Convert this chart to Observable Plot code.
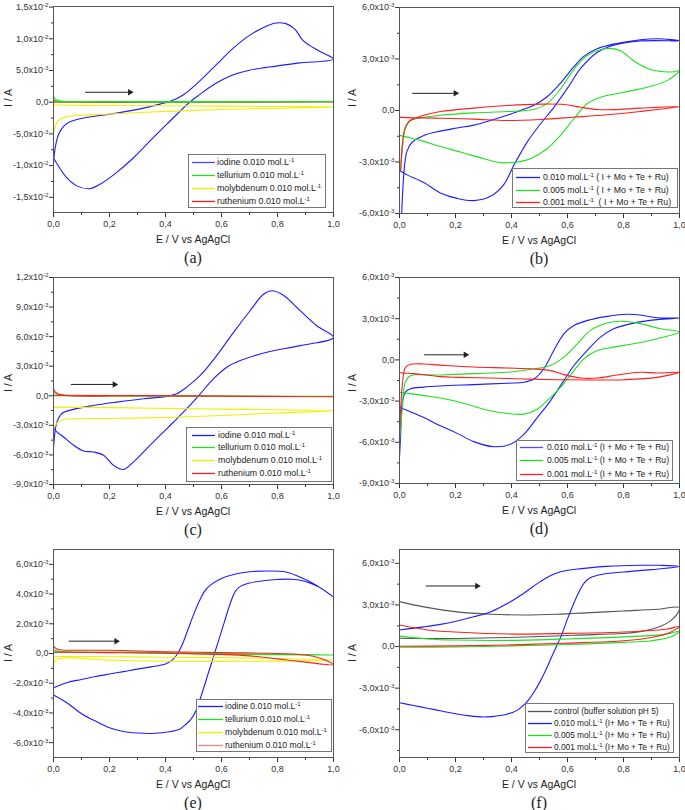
<!DOCTYPE html>
<html><head><meta charset="utf-8">
<script src="https://cdn.jsdelivr.net/npm/d3@7"></script>
<script src="https://cdn.jsdelivr.net/npm/@observablehq/plot@0.6"></script>
<style>
body{margin:0;background:#fff;}
#root{position:relative;width:685px;height:810px;overflow:hidden;background:#fff;font-family:"Liberation Sans",Arial,sans-serif;color:#222;}
.lbl{position:absolute;white-space:nowrap;transform:translate(-50%,-50%);}
.xt{font-size:10.5px;}
.pl{font-family:"Liberation Serif","Times New Roman",serif;font-size:16px;}
.yt{font-size:10.5px;transform:translate(-50%,-50%) rotate(-90deg);}
.leg{position:absolute;border:1px solid #777;background:#fff;box-sizing:border-box;}
.row{position:absolute;line-height:12px;height:12px;white-space:pre;color:#222;}
.smp{position:absolute;overflow:visible;}
sup{font-size:6px;vertical-align:3px;line-height:0;}
</style></head><body><div id="root"></div>
<script>
// ---------- axis ticks ----------
const xMajor = [0, 0.2, 0.4, 0.6, 0.8, 1.0];
const xTickLabels = ["0,0", "0,2", "0,4", "0,6", "0,8", "1,0"];
const xMinor = [0.1, 0.3, 0.5, 0.7, 0.9];
// y values are in mA (labels shown in A)
const aYTicks = [-15, -10, -5, 0, 5, 10, 15];
const aYMinor = [-12.5, -7.5, -2.5, 2.5, 7.5, 12.5];
const bYTicks = [-6, -3, 0, 3, 6];
const bYMinor = [-4.5, -1.5, 1.5, 4.5];
const cYTicks = [-9, -6, -3, 0, 3, 6, 9, 12];
const cYMinor = [-7.5, -4.5, -1.5, 1.5, 4.5, 7.5, 10.5];
const dYTicks = [-9, -6, -3, 0, 3, 6];
const dYMinor = [-7.5, -4.5, -1.5, 1.5, 4.5];
const eYTicks = [-6, -4, -2, 0, 2, 4, 6];
const eYMinor = [-5, -3, -1, 1, 3, 5];
const fYTicks = [-6, -3, 0, 3, 6];
const fYMinor = [-7.5, -4.5, -1.5, 1.5, 4.5];

// ---------- series: [E (V), I (mA)] ----------
const a_iodine = [[0,-9.6],[0.006,-7.2],[0.018,-5.1],[0.036,-3.8],[0.059,-3.1],[0.107,-2.5],[0.2,-1.9],[0.31,-1.05],[0.38,-0.3],[0.415,0.1],[0.463,1.15],[0.52,3.25],[0.58,5.85],[0.64,8.45],[0.70,10.55],[0.76,12.0],[0.795,12.5],[0.83,12.4],[0.86,11.6],[0.89,9.8],[0.913,9.0],[0.95,8.05],[1.0,6.8],
 [0.878,6.2],[0.795,5.7],[0.70,5.05],[0.64,4.3],[0.58,3.0],[0.52,1.15],[0.486,0],[0.403,-3.55],[0.344,-6.15],[0.285,-8.8],[0.225,-11.1],[0.166,-12.95],[0.13,-13.65],[0.083,-13.2],[0.047,-11.9],[0.018,-10.1],[0,-8.8]];
const a_tellurium = [[0,0.9],[0.008,0.45],[0.025,0.2],[0.1,0.12],[0.5,0.1],[1.0,0.1],[0.5,0.02],[0.1,0.05],[0,0.1]];
const a_molybdenum = [[0,-4.9],[0.008,-3.6],[0.02,-2.8],[0.04,-2.35],[0.1,-2.05],[0.2,-1.85],[0.4,-1.45],[0.6,-1.15],[0.8,-0.95],[1.0,-0.75],[0.8,-0.68],[0.6,-0.62],[0.4,-0.57],[0.2,-0.52],[0,-0.45]];
const a_ruthenium = [[0,0.3],[0.02,0.1],[0.5,0.05],[1.0,0.05],[0.5,0.0],[0,0.0]];

const b_010 = [[0.007,-6.3],[0.012,-4.55],[0.018,-3.2],[0.027,-2.35],[0.045,-1.85],[0.087,-1.45],[0.146,-1.2],[0.206,-1.02],[0.265,-0.85],[0.325,-0.58],[0.384,-0.28],[0.432,0],[0.48,0.3],[0.527,0.8],[0.575,1.6],[0.623,2.55],[0.658,3.15],[0.706,3.6],[0.765,3.87],[0.86,4.12],[0.92,4.18],[1.0,4.06],
 [0.86,4.05],[0.765,3.8],[0.706,3.38],[0.647,2.45],[0.6,1.3],[0.552,0.2],[0.504,-0.77],[0.456,-1.84],[0.408,-3.2],[0.373,-4.3],[0.325,-5.0],[0.265,-5.25],[0.206,-5.12],[0.146,-4.8],[0.087,-4.2],[0.027,-3.75],[0,-3.5]];
const b_005 = [[0.004,-3.5],[0.01,-2.3],[0.02,-1.1],[0.039,-0.6],[0.087,-0.4],[0.146,-0.28],[0.265,-0.14],[0.384,-0.06],[0.48,0.06],[0.527,0.4],[0.575,1.25],[0.623,2.4],[0.67,3.2],[0.718,3.54],[0.754,3.62],[0.789,3.48],[0.836,2.9],[0.884,2.46],[0.932,2.27],[0.98,2.26],[1.0,2.32],
 [0.956,1.74],[0.884,1.35],[0.8,1.06],[0.718,0.77],[0.67,0.39],[0.623,-0.48],[0.575,-1.45],[0.527,-2.23],[0.468,-2.81],[0.42,-3.0],[0.36,-3.04],[0.301,-2.81],[0.218,-2.42],[0.146,-2.1],[0.087,-1.8],[0.04,-1.6],[0,-1.45]];
const b_001 = [[0.004,-3.5],[0.01,-2.0],[0.02,-1.0],[0.035,-0.6],[0.06,-0.42],[0.1,-0.22],[0.146,-0.06],[0.265,0.14],[0.384,0.29],[0.504,0.37],[0.587,0.35],[0.647,0.19],[0.706,0.06],[0.765,0.05],[0.86,0.14],[1.0,0.23],
 [0.86,-0.06],[0.742,-0.25],[0.623,-0.39],[0.504,-0.52],[0.384,-0.58],[0.265,-0.5],[0.146,-0.45],[0.05,-0.42],[0,-0.4]];

const c_iodine = [[0,-5.4],[0.004,-4.0],[0.012,-2.7],[0.03,-1.8],[0.071,-1.38],[0.143,-0.98],[0.226,-0.64],[0.321,-0.3],[0.405,-0.07],[0.44,0.2],[0.476,0.88],[0.524,2.06],[0.583,4.08],[0.643,6.44],[0.702,8.63],[0.75,10.3],[0.78,10.65],[0.821,10.2],[0.881,8.63],[0.94,7.1],[1.0,5.93],
 [0.881,5.09],[0.762,4.41],[0.667,3.57],[0.619,2.9],[0.571,1.72],[0.524,0.2],[0.476,-1.31],[0.429,-2.66],[0.381,-4.0],[0.333,-5.36],[0.286,-6.7],[0.25,-7.48],[0.214,-7.04],[0.179,-6.03],[0.143,-5.7],[0.107,-5.6],[0.071,-5.0],[0.036,-4.18],[0.012,-3.67],[0,-3.27]];
const c_tellurium = [[0,0.4],[0.01,0.2],[0.05,0.05],[0.5,0.0],[1.0,-0.05],[0.5,-0.05],[0,0.0]];
const c_molybdenum = [[0,-3.4],[0.006,-3.0],[0.015,-2.7],[0.03,-2.45],[0.06,-2.35],[0.2,-2.3],[0.4,-2.2],[0.6,-2.0],[0.8,-1.75],[1.0,-1.5],[0.8,-1.42],[0.6,-1.35],[0.4,-1.28],[0.2,-1.2],[0,-1.15]];
const c_ruthenium = [[0,0.7],[0.008,0.35],[0.03,0.08],[0.3,0.02],[0.6,-0.02],[1.0,-0.1],[0.6,-0.05],[0.3,0.0],[0,0.05]];

const d_010 = [[0,-7.1],[0.004,-5.5],[0.01,-3.1],[0.021,-2.35],[0.039,-2.1],[0.087,-1.98],[0.146,-1.9],[0.265,-1.8],[0.384,-1.7],[0.444,-1.63],[0.48,-1.39],[0.515,-0.66],[0.551,0.68],[0.587,1.9],[0.623,2.51],[0.682,2.93],[0.742,3.17],[0.813,3.32],[0.86,3.27],[0.92,3.07],[1.0,3.05],
 [0.92,2.93],[0.836,2.68],[0.765,2.27],[0.718,1.66],[0.67,0.68],[0.623,-0.41],[0.587,-1.51],[0.539,-2.98],[0.492,-4.2],[0.444,-5.42],[0.396,-6.15],[0.337,-6.32],[0.265,-5.95],[0.206,-5.35],[0.146,-4.8],[0.087,-4.2],[0.03,-3.7],[0,-3.44]];
const d_005 = [[0,-6.0],[0.01,-3.5],[0.021,-1.6],[0.039,-1.15],[0.146,-1.1],[0.265,-1.0],[0.384,-0.9],[0.48,-0.66],[0.539,-0.41],[0.587,0.2],[0.635,1.17],[0.682,2.15],[0.742,2.68],[0.789,2.81],[0.86,2.64],[0.932,2.27],[1.0,2.03],
 [0.92,1.54],[0.836,1.17],[0.765,0.93],[0.706,0.68],[0.658,0.07],[0.623,-0.78],[0.575,-2.0],[0.527,-2.98],[0.492,-3.59],[0.444,-3.95],[0.384,-3.9],[0.301,-3.59],[0.218,-3.1],[0.146,-2.78],[0.087,-2.6],[0,-2.35]];
const d_001 = [[0,-5.5],[0.01,-1.86],[0.021,-0.55],[0.039,-0.32],[0.087,-0.3],[0.146,-0.38],[0.265,-0.52],[0.384,-0.59],[0.48,-0.66],[0.539,-0.78],[0.587,-1.07],[0.647,-1.32],[0.706,-1.32],[0.777,-1.1],[0.86,-0.9],[0.92,-0.95],[1.0,-0.9],
 [0.92,-1.27],[0.8,-1.44],[0.682,-1.46],[0.563,-1.44],[0.444,-1.39],[0.325,-1.32],[0.206,-1.27],[0.146,-1.22],[0.05,-1.0],[0,-0.94]];

const e_iodine = [[0,-2.3],[0.05,-1.95],[0.1,-1.75],[0.15,-1.55],[0.2,-1.38],[0.25,-1.22],[0.3,-1.05],[0.35,-0.9],[0.4,-0.7],[0.42,-0.5],[0.44,-0.1],[0.46,0.6],[0.48,1.6],[0.5,2.6],[0.52,3.5],[0.54,4.2],[0.56,4.6],[0.6,5.05],[0.65,5.35],[0.7,5.5],[0.77,5.55],[0.83,5.48],[0.88,5.15],[0.94,4.58],[1.0,3.8],
 [0.95,4.45],[0.9,4.85],[0.85,5.0],[0.8,4.98],[0.75,4.9],[0.7,4.75],[0.67,4.55],[0.65,4.2],[0.63,3.3],[0.61,2.1],[0.59,0.9],[0.57,-0.3],[0.55,-1.5],[0.53,-2.7],[0.51,-3.8],[0.49,-4.45],[0.47,-4.8],[0.45,-5.1],[0.42,-5.25],[0.35,-5.38],[0.3,-5.35],[0.25,-5.25],[0.2,-5.0],[0.15,-4.55],[0.1,-4.05],[0.05,-3.35],[0,-2.8]];
const e_tellurium = [[0,0.25],[0.02,0.15],[0.3,0.1],[0.6,0.0],[1.0,-0.1],[0.6,-0.05],[0.3,0.05],[0,0.1]];
const e_molybdenum = [[0,-0.7],[0.01,-0.4],[0.03,-0.3],[0.2,-0.45],[0.4,-0.52],[0.7,-0.52],[1.0,-0.45],[0.7,-0.3],[0.4,-0.25],[0.2,-0.22],[0,-0.2]];
const e_ruthenium = [[0,0.5],[0.015,0.28],[0.1,0.22],[0.2,0.22],[0.4,0.12],[0.6,0.06],[0.8,0.0],[0.9,-0.1],[0.95,-0.3],[1.0,-0.75],[0.95,-0.7],[0.9,-0.58],[0.8,-0.36],[0.7,-0.16],[0.6,-0.07],[0.4,0.02],[0.2,0.06],[0,0.08]];

const f_control = [[0,3.24],[0.087,2.86],[0.206,2.5],[0.325,2.33],[0.444,2.28],[0.563,2.33],[0.682,2.45],[0.8,2.57],[0.92,2.69],[1.0,2.81],[0.99,2.3],[0.968,1.85],[0.92,1.37],[0.86,1.08],[0.8,0.94],[0.623,0.82],[0.385,0.65],[0.206,0.58],[0.087,0.58],[0,0.6]];
const f_010 = [[0,1.2],[0.087,1.42],[0.146,1.6],[0.206,1.85],[0.265,2.15],[0.325,2.5],[0.385,3.1],[0.444,3.85],[0.504,4.7],[0.55,5.22],[0.6,5.5],[0.65,5.62],[0.742,5.78],[0.86,5.86],[0.932,5.86],[1.0,5.78],
 [0.9,5.55],[0.8,5.38],[0.72,5.2],[0.68,4.95],[0.66,4.6],[0.64,3.9],[0.62,3.0],[0.6,2.0],[0.58,0.9],[0.56,0],[0.54,-0.9],[0.52,-1.8],[0.5,-2.6],[0.48,-3.3],[0.47,-3.6],[0.45,-4.1],[0.42,-4.6],[0.38,-4.9],[0.33,-5.05],[0.3,-5.08],[0.25,-5.0],[0.2,-4.85],[0.15,-4.65],[0.1,-4.45],[0.05,-4.25],[0,-4.05]];
const f_005 = [[0,0.75],[0.1,0.55],[0.2,0.47],[0.4,0.45],[0.6,0.55],[0.8,0.7],[0.95,0.88],[1.0,1.1],[0.97,0.7],[0.9,0.42],[0.8,0.3],[0.6,0.15],[0.4,0.05],[0.2,-0.03],[0,-0.05]];
const f_001 = [[0,1.55],[0.1,1.2],[0.2,1.05],[0.4,0.9],[0.6,0.95],[0.8,1.05],[0.95,1.25],[1.0,1.45],[0.97,1.05],[0.9,0.65],[0.8,0.42],[0.6,0.25],[0.4,0.12],[0.2,0.05],[0,0.02]];

// scan-direction arrows: [E start, E end, I]
const a_arrow = [0.113, 0.273, 1.57];
const b_arrow = [0.045, 0.2, 1.0];
const c_arrow = [0.062, 0.218, 1.15];
const d_arrow = [0.087, 0.236, 0.37];
const e_arrow = [0.054, 0.224, 0.83];
const f_arrow = [0.093, 0.277, 4.37];

// legend texts
const metalNames = ["iodine 0.010 mol.L<sup>-1</sup>", "tellurium 0.010 mol.L<sup>-1</sup>", "molybdenum 0.010 mol.L<sup>-1</sup>", "ruthenium 0.010 mol.L<sup>-1</sup>"];
const bNames = ["0.010 mol.L<sup>-1</sup> ( I + Mo + Te + Ru)", "0.005 mol.L<sup>-1</sup> ( I + Mo + Te + Ru)", "0.001 mol.L<sup>-1</sup>  ( I + Mo + Te + Ru)"];
const dNames = ["0.010 mol.L<sup>-1</sup> (I + Mo + Te + Ru)", "0.005 mol.L<sup>-1</sup> (I + Mo + Te + Ru)", "0.001 mol.L<sup>-1</sup> (I + Mo + Te + Ru)"];
const fNames = ["control (buffer solution pH 5)", "0.010 mol.L<sup>-1</sup> (I+ Mo + Te + Ru)", "0.005 mol.L<sup>-1</sup> (I+ Mo + Te + Ru)", "0.001 mol.L<sup>-1</sup> (I+ Mo + Te + Ru)"];
const panelLetters = ["(a)", "(b)", "(c)", "(d)", "(e)", "(f)"];
const xTitle = "E / V vs AgAgCl";
const yTitle = "I / A";

const BLUE = "#1c1cff", GREEN = "#1fe01f", YELLOW = "#f0f000", RED = "#ff1f1f", GRAY = "#555555";

function fmtY(v) {
  if (Math.abs(v) < 1e-9) return "0,0";
  const a = v * 1e-3;
  const e = Math.floor(Math.log10(Math.abs(a)) + 1e-9);
  const m = a / Math.pow(10, e);
  return m.toFixed(1).replace(".", ",") + "x10^" + e;
}
function fmtX(v) { const i = xMajor.findIndex(t => Math.abs(t - v) < 1e-9); return i >= 0 ? xTickLabels[i] : ""; }

const panels = [
  {fx:53, fy:6, fh:206, yd:[-17.4,15.1], yt:aYTicks, ym:aYMinor, ylab:98,
   series:[[a_iodine,BLUE],[a_molybdenum,YELLOW],[a_ruthenium,RED],[a_tellurium,GREEN]], arrow:a_arrow,
   leg:{x:188,y:154,w:138,h:54,fs:8.8,rows:[162,175,188,201],lx:[192,215],tx:217,names:metalNames,colors:["#4a4aff",GREEN,YELLOW,RED]}},
  {fx:399, fy:7, fh:206, yd:[-6,6], yt:bYTicks, ym:bYMinor, ylab:98,
   series:[[b_010,BLUE],[b_005,GREEN],[b_001,RED]], arrow:b_arrow,
   leg:{x:512,y:168,w:166,h:40,fs:8.7,rows:[177,190,202],lx:[516,540],tx:543,names:bNames,colors:[BLUE,GREEN,RED]}},
  {fx:53, fy:277, fh:207, yd:[-9,12], yt:cYTicks, ym:cYMinor, ylab:383,
   series:[[c_iodine,BLUE],[c_molybdenum,YELLOW],[c_tellurium,GREEN],[c_ruthenium,RED]], arrow:c_arrow,
   leg:{x:186,y:427,w:146,h:55,fs:8.8,rows:[435,447,460,473],lx:[192,215],tx:218,names:metalNames,colors:[BLUE,GREEN,YELLOW,RED]}},
  {fx:399, fy:277, fh:206, yd:[-9,6], yt:dYTicks, ym:dYMinor, ylab:383,
   series:[[d_010,BLUE],[d_005,GREEN],[d_001,RED]], arrow:d_arrow,
   leg:{x:516,y:440,w:157,h:41,fs:8.6,rows:[447,460,474],lx:[520,543],tx:547,names:dNames,colors:["#5050ff",GREEN,RED]}},
  {fx:53, fy:549, fh:208, yd:[-7,7], yt:eYTicks, ym:eYMinor, ylab:653,
   series:[[e_iodine,BLUE],[e_molybdenum,YELLOW],[e_tellurium,GREEN],[e_ruthenium,RED]], arrow:e_arrow,
   leg:{x:196,y:699,w:136,h:53,fs:8.6,rows:[706,719,732,745],lx:[198,223],tx:225,names:metalNames,colors:[BLUE,GREEN,YELLOW,"#ff8080"]}},
  {fx:399, fy:549, fh:208, yd:[-8,7], yt:fYTicks, ym:fYMinor, ylab:653,
   series:[[f_control,GRAY],[f_010,BLUE],[f_005,GREEN],[f_001,RED]], arrow:f_arrow,
   leg:{x:525,y:703,w:149,h:50,fs:8.3,rows:[711,723,735,747],lx:[528,552],tx:554,names:fNames,colors:[GRAY,BLUE,GREEN,RED]}}
];

const root = document.getElementById("root");
const FW = 280, ML = 55, MR = 8, MT = 6, MB = 24;
const NS = "http://www.w3.org/2000/svg";

function addDiv(cls, html, x, y) {
  const d = document.createElement("div");
  d.className = cls; d.innerHTML = html;
  d.style.left = x + "px"; d.style.top = y + "px";
  root.appendChild(d); return d;
}

panels.forEach((p, i) => {
  const arr = [p.arrow];
  const svg = Plot.plot({
    width: FW + ML + MR, height: p.fh + MT + MB,
    marginLeft: ML, marginRight: MR, marginTop: MT, marginBottom: MB,
    x: {domain: [0, 1], label: null},
    y: {domain: p.yd, label: null},
    style: {fontFamily: '"Liberation Sans", Arial, sans-serif', fontSize: "9px", color: "#333", background: "transparent", overflow: "visible"},
    marks: [
      ...p.series.map(([data, color]) => Plot.line(data, {x: d => d[0], y: d => d[1], stroke: color, strokeWidth: 1.1, curve: "catmull-rom", clip: true})),
      Plot.link(arr, {x1: d => d[0], x2: d => d[1], y1: d => d[2], y2: d => d[2], stroke: "#222", strokeWidth: 1}),
      Plot.dot(arr, {x: d => d[1], y: d => d[2], symbol: "triangle", r: 2.4, fill: "#222", stroke: "none", rotate: 90}),
      Plot.axisX(xMajor, {tickFormat: fmtX, tickSize: 5, tickPadding: 3, label: null}),
      Plot.axisX(xMinor, {tickFormat: () => "", tickSize: 3, label: null}),
      Plot.axisY(p.yt, {tickFormat: fmtY, tickSize: 4, tickPadding: 1, label: null}),
      Plot.axisY(p.ym, {tickFormat: () => "", tickSize: 2, label: null}),
      Plot.frame({stroke: "#555"})
    ]
  });
  // superscript exponents
  svg.querySelectorAll("text").forEach(t => {
    const s = t.textContent; const k = s.indexOf("^");
    if (k < 0) return;
    t.textContent = "";
    const t1 = document.createElementNS(NS, "tspan"); t1.textContent = s.slice(0, k);
    const t2 = document.createElementNS(NS, "tspan"); t2.textContent = s.slice(k + 1);
    t2.setAttribute("font-size", "6.2px"); t2.setAttribute("dy", "-3");
    t.appendChild(t1); t.appendChild(t2);
  });
  svg.style.position = "absolute";
  svg.style.left = (p.fx - ML) + "px";
  svg.style.top = (p.fy - MT) + "px";
  root.appendChild(svg);

  const cx = p.fx + FW / 2, by = p.fy + p.fh;
  addDiv("lbl xt", xTitle, cx, by + 27);
  addDiv("lbl pl", panelLetters[i], cx, by + 46);
  addDiv("lbl yt", yTitle, p.fx < 200 ? 8 : 352, p.ylab);

  // legend
  const L = p.leg;
  const box = document.createElement("div");
  box.className = "leg";
  Object.assign(box.style, {left: L.x + "px", top: L.y + "px", width: L.w + "px", height: L.h + "px"});
  root.appendChild(box);
  // sample lines drawn in a small svg overlay
  const ls = document.createElementNS(NS, "svg");
  ls.setAttribute("class", "smp");
  ls.setAttribute("width", L.w); ls.setAttribute("height", L.h);
  ls.style.left = L.x + "px"; ls.style.top = L.y + "px";
  L.names.forEach((nm, j) => {
    const ln = document.createElementNS(NS, "line");
    const yy = L.rows[j] - L.y + 0.5;
    ln.setAttribute("x1", L.lx[0] - L.x); ln.setAttribute("x2", L.lx[1] - L.x);
    ln.setAttribute("y1", yy); ln.setAttribute("y2", yy);
    ln.setAttribute("stroke", L.colors[j]); ln.setAttribute("stroke-width", "1.3");
    ls.appendChild(ln);
    const r = document.createElement("div");
    r.className = "row"; r.innerHTML = nm;
    Object.assign(r.style, {left: L.tx + "px", top: (L.rows[j] - 6) + "px", fontSize: L.fs + "px"});
    root.appendChild(r);
  });
  root.appendChild(ls);
});
</script></body></html>
